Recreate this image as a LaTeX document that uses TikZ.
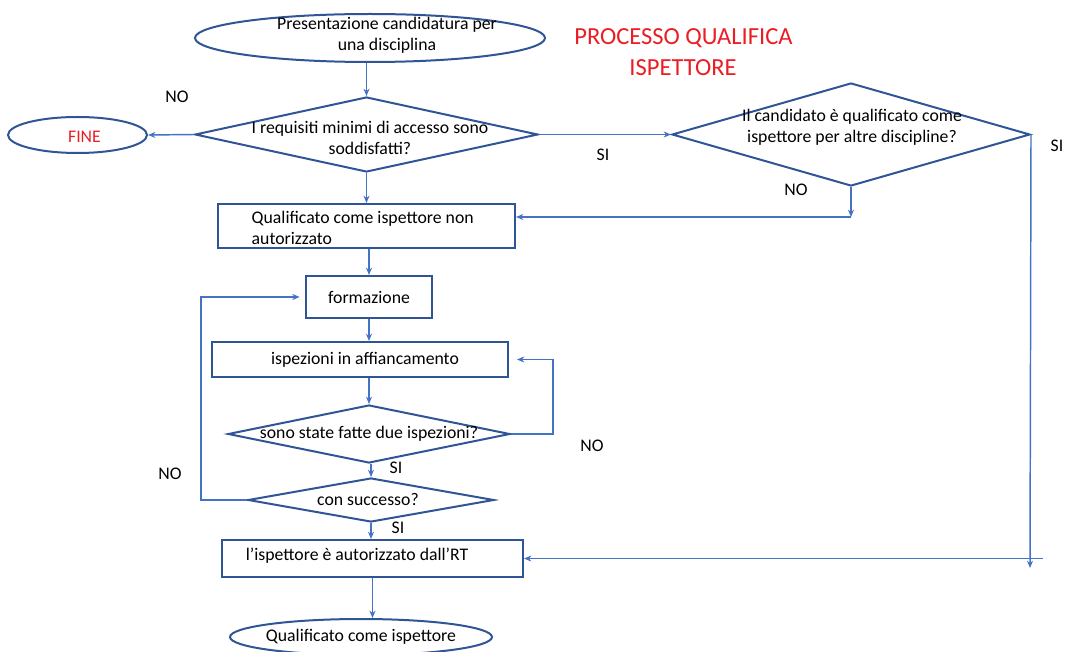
\documentclass[tikz,border=0pt]{standalone}
\usepackage{fontspec}
\setmainfont{Carlito}
\usetikzlibrary{shapes.geometric,arrows.meta,calc}
\definecolor{shapeblue}{RGB}{47,85,151}
\definecolor{lineblue}{RGB}{68,114,196}
\definecolor{titlered}{RGB}{235,28,36}
\begin{document}
\begin{tikzpicture}[x=0.75pt,y=-0.75pt,
  every node/.style={font=\fontsize{13.3}{15.75}\selectfont},
  shapeline/.style={draw=shapeblue,line width=1.5pt,inner sep=0pt},
  dia/.style={shapeline,shape=diamond},
  oval/.style={shapeline,shape=ellipse},
  box/.style={shapeline,shape=rectangle},
  conn/.style={draw=lineblue,line width=1.1pt,-{Stealth[length=5.5pt,width=4.5pt]}},
  lab/.style={inner sep=0pt},
  ttl/.style={text=titlered,font=\fontsize{18.4}{22}\selectfont,inner sep=0pt}
]
\useasboundingbox (0,0) rectangle (1067,652);

% title
\node[ttl] (t1) at (683.5,38) {PROCESSO QUALIFICA};
\node[ttl] (t2) at (683,68) {ISPETTORE};

% shapes
\node[oval,minimum width=262.5pt,minimum height=36pt,
  label={[align=center,xshift=12.75pt,yshift=1.9pt]center:Presentazione candidatura per\\una disciplina}]
  (start) at (370,38) {};
\node[oval,minimum width=104.25pt,minimum height=27pt,
  label={[text=titlered,xshift=5.25pt,yshift=-1.5pt]center:FINE}]
  (fine) at (77.5,135) {};
\node[dia,minimum width=257.25pt,minimum height=56.25pt,
  label={[align=center,xshift=2.6pt,yshift=-2.25pt]center:I requisiti minimi di accesso sono\\soddisfatti?}]
  (d1) at (366.5,134.5) {};
\node[dia,minimum width=268.5pt,minimum height=77.25pt,
  label={[align=center,xshift=0.75pt,yshift=5.25pt]center:Il candidato è qualificato come\\ispettore per altre discipline?}]
  (d2) at (851,134.5) {};
\node[box,minimum width=222.75pt,minimum height=33pt,
  label={[align=left,anchor=west,xshift=22.5pt,yshift=-1.2pt]west:Qualificato come ispettore non\\autorizzato}]
  (box2) at (366.5,226) {};
\node[box,minimum width=94.5pt,minimum height=31.5pt,
  label={center:formazione}]
  (form) at (369,297) {};
\node[box,minimum width=222pt,minimum height=26.25pt,
  label={[xshift=3.75pt]center:ispezioni in affiancamento}]
  (isp) at (360,359.5) {};
\node[dia,minimum width=211.5pt,minimum height=43.5pt,
  label={center:sono state fatte due ispezioni?}]
  (d3) at (369,434) {};
\node[dia,minimum width=184.5pt,minimum height=33pt,
  label={[xshift=-2.25pt]center:con successo?}]
  (d4) at (371,500) {};
\node[box,minimum width=225.75pt,minimum height=27.75pt,
  label={[xshift=-11.6pt,yshift=1.9pt]center:l’ispettore è autorizzato dall’RT}]
  (box5) at (372.5,558.5) {};
\node[oval,minimum width=196.5pt,minimum height=27pt,
  label={center:Qualificato come ispettore}]
  (endn) at (361,637) {};

% helper coordinates
\coordinate (c1) at (851,217);
\coordinate (c2) at (1030,568);
\coordinate (c3) at (1043,558.5);
\coordinate (c4) at (553,434);
\coordinate (c5) at (201,500);

% connectors
\draw[conn] (d1.north |- start.south) -- (d1.north);
\draw[conn] (d1.west) -- (fine.east);
\draw[conn] (d1.east) -- (d2.west);
\draw[conn] (d2.south) -- (c1);
\draw[conn] (c1) -- (c1 -| box2.east);
\draw[conn] (d2.east) -- (c2);
\draw[conn] (c3) -- (box5.east);
\draw[conn] (d1.south) -- (d1.south |- box2.north);
\draw[conn] (form.north |- box2.south) -- (form.north);
\draw[conn] (form.south) -- (form.south |- isp.north);
\draw[conn] (d3.north |- isp.south) -- (d3.north);
\draw[conn,shorten >=6pt] (d3.east) -- (c4) |- (isp.east);
\draw[conn] (d4.north |- d3.south) -- (d4.north);
\draw[conn,shorten >=4pt] (d4.west) -- (c5) |- (form.west);
\draw[conn] (d4.south) -- (d4.south |- box5.north);
\draw[conn] (box5.south) -- (box5.south |- endn.north);

% branch labels
\node[lab] (no1) at (177,97) {NO};
\node[lab] (si1) at (603,155) {SI};
\node[lab] (no2) at (796,190) {NO};
\node[lab] (si2) at (1057,146) {SI};
\node[lab] (no3) at (592,446) {NO};
\node[lab] (si3) at (396,468) {SI};
\node[lab] (no4) at (170,474) {NO};
\node[lab] (si4) at (398,528) {SI};
\end{tikzpicture}
\end{document}
